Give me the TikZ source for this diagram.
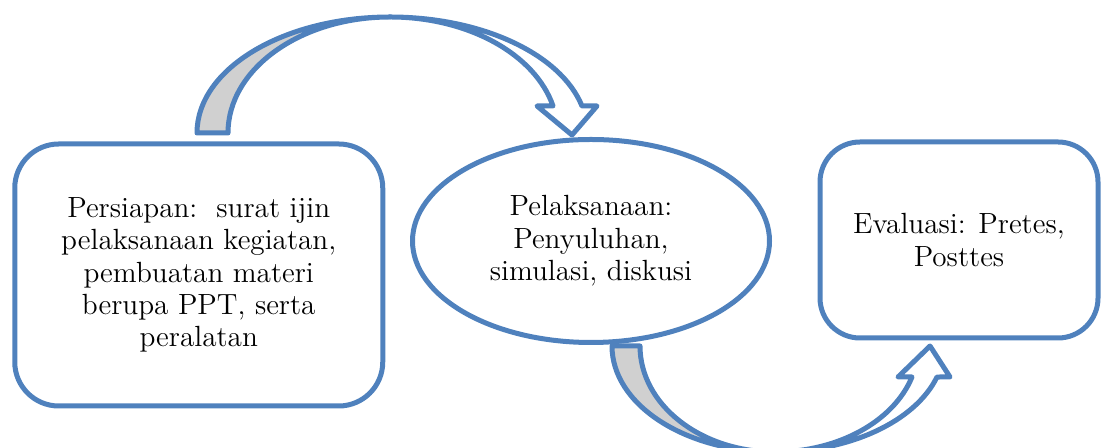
\documentclass[tikz,border=0pt]{standalone}
\usepackage{fontspec}
\usetikzlibrary{shapes.geometric}

\definecolor{stageblue}{HTML}{4F81BD}
\definecolor{backgray}{HTML}{D0D0D0}

\tikzset{
  stagebox/.style={draw=stageblue, line width=2.5pt, rounded corners=22pt, align=center,
    inner sep=0pt, font=\fontsize{14.6}{16.2}\selectfont},
  stageoval/.style={ellipse, draw=stageblue, line width=2.5pt, align=center,
    inner sep=0pt, font=\fontsize{14.6}{16.2}\selectfont},
  bentarrow/.style={draw=stageblue, line width=2.5pt, line join=round}
}

\begin{document}
\begin{tikzpicture}[x=0.5pt, y=0.5pt]
    \useasboundingbox (0,0) rectangle (1102,448);
    \node[stagebox, minimum width=184pt, minimum height=131pt] (persiapan) at (198.75,173)
        {Persiapan:\ \ surat ijin\\pelaksanaan kegiatan,\\pembuatan materi\\berupa PPT, serta\\peralatan};
    \node[stageoval, minimum width=178.5pt, minimum height=101.5pt] (pelaksanaan) at (591,207)
        {Pelaksanaan:\\Penyuluhan,\\simulasi, diskusi};
    \node[stagebox, rounded corners=20pt, minimum width=139pt, minimum height=98pt] (evaluasi) at (959,208)
        {Evaluasi: Pretes,\\Posttes};
	% arrow persiapan -> pelaksanaan
	\filldraw[bentarrow, fill=backgray] (197,315) arc[start angle=180, end angle=90, x radius=193, y radius=116]
	    arc[start angle=90, end angle=180, x radius=162, y radius=116] -- cycle;
	\filldraw[bentarrow, fill=white] (390,431) arc[start angle=90, end angle=13.46, x radius=197.4, y radius=116]
	    -- (597,342) -- (572,313) -- (537,342) -- (553,342)
	    arc[start angle=13.46, end angle=90, x radius=167.6, y radius=116] -- cycle;
	% arrow pelaksanaan -> evaluasi
	\filldraw[bentarrow, fill=backgray] (612,102) arc[start angle=180, end angle=270, x radius=163, y radius=106]
	    arc[start angle=270, end angle=180, x radius=135, y radius=106] -- cycle;
	\filldraw[bentarrow, fill=white] (775,-4) arc[start angle=270, end angle=342.99, x radius=169.4, y radius=106]
	    -- (950,71) -- (930,102) -- (898,71) -- (912,71)
	    arc[start angle=342.99, end angle=270, x radius=143.3, y radius=106] -- cycle;
\end{tikzpicture}
\end{document}
